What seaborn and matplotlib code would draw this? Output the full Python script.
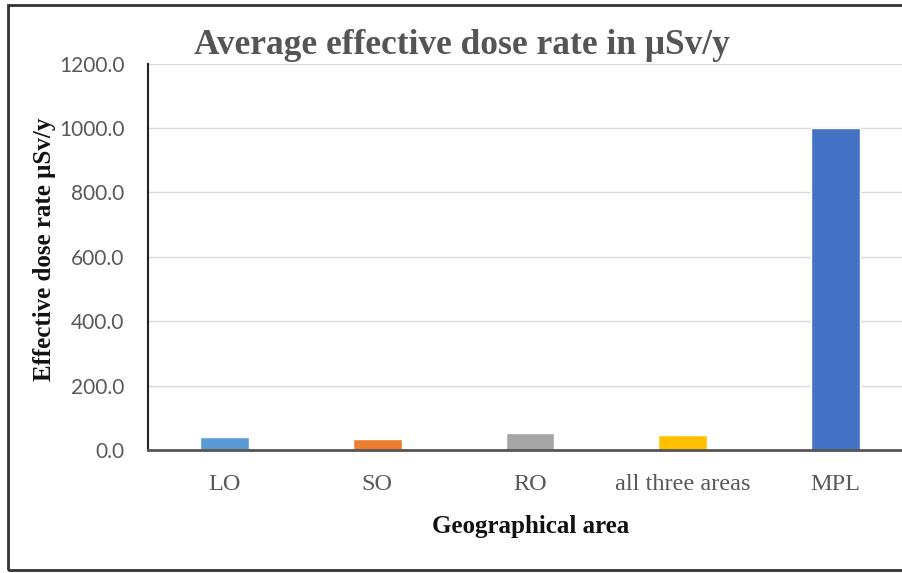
import matplotlib
matplotlib.use("Agg")
import matplotlib.pyplot as plt
import seaborn as sns
import pandas as pd
from matplotlib.patches import Rectangle

categories = ["LO", "SO", "RO", "all three areas", "MPL"]
values = [41.0, 34.0, 52.0, 47.0, 1000.0]
colors = ["#5B9BD5", "#ED7D31", "#A5A5A5", "#FFC000", "#4472C4"]
yticks = [0, 200, 400, 600, 800, 1000, 1200]

sns.set_theme(style="white")
plt.rcParams['font.family'] = ['Liberation Serif', 'DejaVu Serif']

df = pd.DataFrame({"area": categories, "dose": values})

W, H = 903, 573
fig = plt.figure(figsize=(W / 100, H / 100), dpi=100)
ax = fig.add_axes([148 / W, 1 - 450 / H, (912 - 148) / W, (450 - 63.6) / H])

sns.barplot(data=df, x="area", y="dose", hue="area", palette=colors,
            width=0.32, legend=False, ax=ax, saturation=1)

ax.set_ylim(0, 1200)
ax.set_xlim(-0.5, 4.5)
ax.set_yticks(yticks)
ax.set_yticklabels([f"{v:.1f}" for v in yticks], family="Lato", fontsize=15, color="#595959")
ax.tick_params(axis="y", length=0, pad=17)
ax.tick_params(axis="x", length=0, pad=17, labelsize=17.5, labelcolor="#595959")
for lab in ax.get_xticklabels():
    lab.set_family("Liberation Serif")
ax.yaxis.grid(True, color="#D9D9D9", linewidth=1)
ax.set_axisbelow(True)
for s in ["top", "right"]:
    ax.spines[s].set_visible(False)
ax.spines["left"].set_color("#222222")
ax.spines["left"].set_linewidth(1.5)
ax.spines["bottom"].set_color("#555555")
ax.spines["bottom"].set_linewidth(2)
ax.set_xlabel("")
ax.set_ylabel("")

fig.text(462 / W, 1 - 46 / H, "Average effective dose rate in μSv/y", ha="center", va="center",
         fontsize=25.5, fontweight="bold", color="#555555")
fig.text(45 / W, 1 - 249 / H, "Effective dose rate μSv/y", ha="center", va="center",
         rotation=90, fontsize=18, fontweight="bold", color="#111111")
fig.text(531 / W, 1 - 526 / H, "Geographical area", ha="center", va="center",
         fontsize=18, fontweight="bold", color="#111111")

fig.patches.append(Rectangle((8 / W, 1 - 570 / H), 1.1, (570 - 5) / H, transform=fig.transFigure,
                             fill=False, edgecolor="#333333", linewidth=2, clip_on=False))

fig.savefig("out.png", dpi=100)
